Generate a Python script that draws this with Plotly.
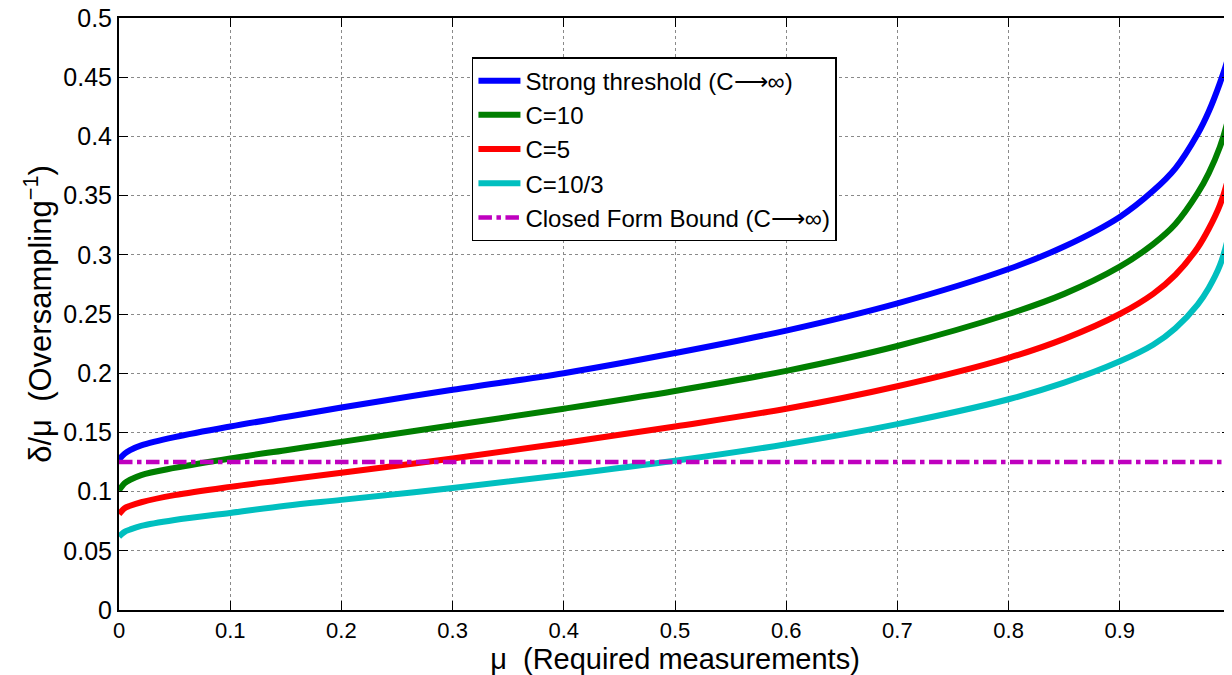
import plotly.graph_objects as go

mu = [0, 0.005, 0.01, 0.02, 0.05, 0.1, 0.15, 0.2, 0.3, 0.4, 0.5, 0.6, 0.7, 0.8, 0.85, 0.9, 0.93, 0.95, 0.97, 0.98, 0.99, 0.997, 1.0]

strong = [0.127, 0.132, 0.135, 0.139, 0.146, 0.155, 0.163, 0.171, 0.186, 0.200, 0.217, 0.236, 0.259, 0.288, 0.307, 0.332, 0.354, 0.373, 0.402, 0.421, 0.445, 0.465, 0.478]
c10 = [0.101, 0.107, 0.110, 0.114, 0.120, 0.128, 0.135, 0.142, 0.156, 0.170, 0.185, 0.202, 0.223, 0.250, 0.267, 0.290, 0.309, 0.326, 0.352, 0.369, 0.391, 0.413, 0.428]
c5 = [0.081, 0.086, 0.088, 0.091, 0.097, 0.104, 0.110, 0.116, 0.128, 0.141, 0.155, 0.170, 0.189, 0.213, 0.229, 0.250, 0.267, 0.283, 0.306, 0.322, 0.342, 0.363, 0.378]
c103 = [0.062, 0.066, 0.068, 0.071, 0.076, 0.082, 0.088, 0.093, 0.103, 0.114, 0.126, 0.140, 0.157, 0.178, 0.192, 0.210, 0.224, 0.238, 0.258, 0.272, 0.291, 0.313, 0.328]
bound_x = [0, 1]
bound_y = [0.125, 0.125]

names = ["Strong threshold (C\u27f6\u221e)", "C=10", "C=5", "C=10/3", "Closed Form Bound (C\u27f6\u221e)"]
colors = ["#0000ff", "#007f00", "#ff0000", "#00bfbf", "#bf00bf"]

font = "Liberation Sans, Arial, Helvetica, sans-serif"

fig = go.Figure()
for i, (ys, nm) in enumerate(zip([strong, c10, c5, c103], names[:4])):
    fig.add_trace(go.Scatter(x=mu, y=ys, mode="lines", name=nm,
                             line=dict(color=colors[i], width=6, shape="spline", smoothing=1.0),
                             legendgroup=str(i)))
fig.add_trace(go.Scatter(x=bound_x, y=bound_y, mode="lines", name=names[4],
                         line=dict(color=colors[4], width=4.5, dash="dashdot"),
                         legendgroup="4"))

axis_common = dict(
    showline=True, linecolor="black", linewidth=2, mirror="ticks",
    ticks="inside", ticklen=9, tickwidth=1, tickcolor="black",
    showgrid=True, gridcolor="#8a8a8a", griddash="dot", gridwidth=1,
    zeroline=False, automargin=False, ticklabeloverflow="allow",
)

# page body has an 8px margin; figure is offset accordingly
fig.update_layout(
    width=1224, height=667,
    margin=dict(l=111, r=1, t=10, b=65),
    paper_bgcolor="white", plot_bgcolor="white",
    font=dict(family=font, color="black"),
    xaxis=dict(range=[0, 1], tickmode="array",
               tickvals=[0, 0.1, 0.2, 0.3, 0.4, 0.5, 0.6, 0.7, 0.8, 0.9, 1],
               ticktext=["0", "0.1", "0.2", "0.3", "0.4", "0.5", "0.6", "0.7", "0.8", "0.9", "1"],
               tickfont=dict(family=font, size=22, color="black"),
               title=dict(text="\u03bc  (Required measurements)", font=dict(family=font, size=29), standoff=4),
               **axis_common),
    yaxis=dict(range=[0, 0.5], tickmode="array",
               tickvals=[0, 0.05, 0.1, 0.15, 0.2, 0.25, 0.3, 0.35, 0.4, 0.45, 0.5],
               ticktext=["0", "0.05", "0.1", "0.15", "0.2", "0.25", "0.3", "0.35", "0.4", "0.45", "0.5"],
               tickfont=dict(family=font, size=25, color="black"),
               title=dict(text="\u03b4/\u03bc  (Oversampling<sup>\u22121</sup>)", font=dict(family=font, size=31), standoff=2),
               **axis_common),
    legend=dict(x=0.3174, y=0.934, xanchor="left", yanchor="top",
                bgcolor="white", bordercolor="black", borderwidth=1.5,
                font=dict(family=font, size=24, color="black"),
                tracegroupgap=0, traceorder="grouped", itemwidth=42),
    showlegend=True,
)

fig.write_html("out.html")
